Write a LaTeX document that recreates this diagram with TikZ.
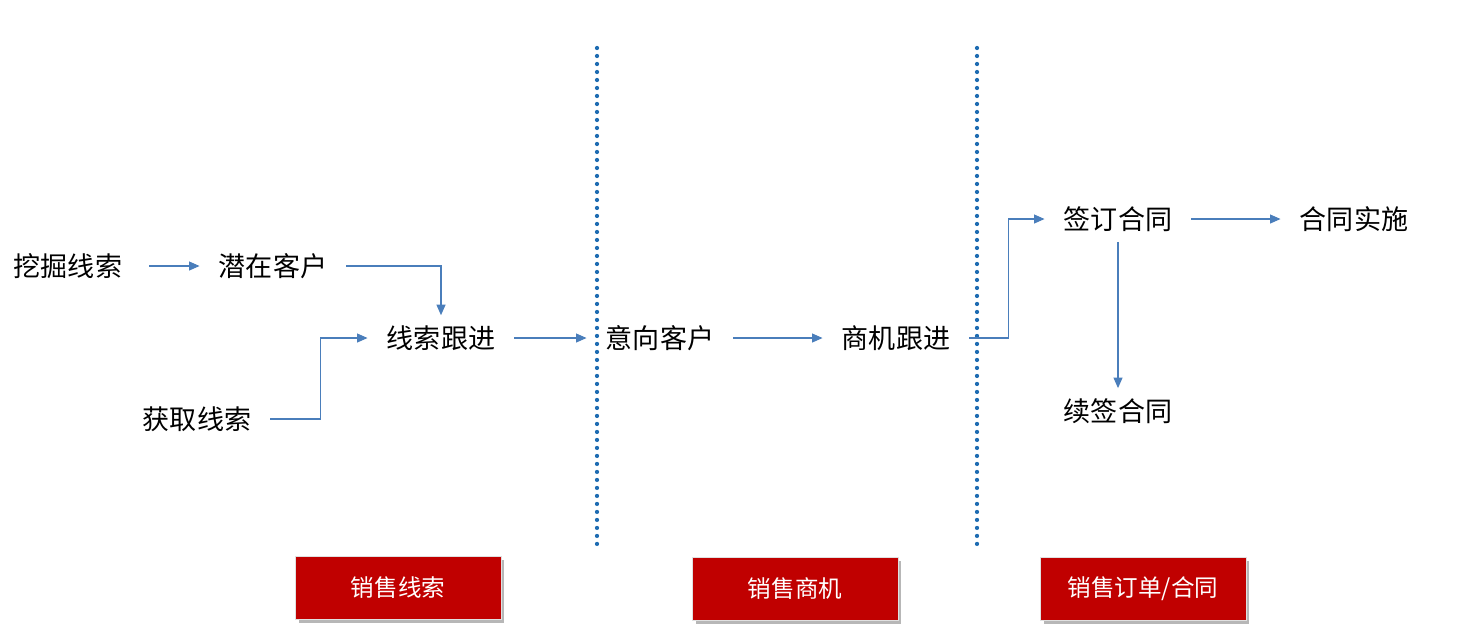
\documentclass[tikz,border=0pt]{standalone}
\usepackage{fontspec}
\setmainfont{Noto Sans CJK SC}
\usetikzlibrary{arrows.meta, positioning, shadows}
\definecolor{arrowblue}{HTML}{4A7EBB}
\definecolor{lineblue}{HTML}{1E6CB2}
\definecolor{stagered}{HTML}{C00000}

\begin{document}
\begin{tikzpicture}[
    x=0.02cm, y=-0.02cm,
    item/.style={inner xsep=0.38cm, inner ysep=0.2cm, font=\fontsize{15.4}{18}\selectfont},
    stage/.style={draw=black!12, fill=stagered, text=white, minimum width=4.12cm, minimum height=1.26cm,
        font=\fontsize{13.4}{16}\selectfont,
        drop shadow={shadow xshift=0.07cm, shadow yshift=-0.07cm, fill=black!40, opacity=0.7}},
    arrow/.style={-{Triangle[length=0.21cm, width=0.18cm]}, draw=arrowblue, line width=0.6pt},
    divider/.style={draw=lineblue, line width=0.085cm, line cap=round, dash pattern=on 0pt off 0.16cm}
]
\useasboundingbox (0,0) rectangle (1465,643);

% 线索阶段
\node[item] (dig) at (68,266) {挖掘线索};
\node[item] (potential) at (273,266) {潜在客户};
\node[item] (follow) at (441,338) {线索跟进};
\node[item] (obtain) at (197,419) {获取线索};

% 商机阶段
\node[item] (intent) at (660,338) {意向客户};
\node[item] (deal) at (896,338) {商机跟进};

% 合同阶段
\node[item] (sign) at (1118,219) {签订合同};
\node[item] (execute) at (1354,219) {合同实施};
\node[item] (renew) at (1118,411) {续签合同};

% 分隔线
\coordinate (div1top) at (597,48);
\coordinate (div1bot) at (597,550);
\coordinate (div2top) at (977,48);
\coordinate (div2bot) at (977,550);
\draw[divider] (div1top) -- (div1bot);
\draw[divider] (div2top) -- (div2bot);

% 阶段标签
\node[stage] (lead) at (398,588) {销售线索};
\node[stage] (chance) at (795,589) {销售商机};
\node[stage] (order) at (1143,589) {销售订单/合同};

% 箭头
\foreach \i/\j in {follow/intent, intent/deal, sign/execute, sign/renew}
    \draw[arrow] (\i) -- (\j);
\draw[arrow, shorten <=0.16cm] (dig) -- (potential);
\draw[arrow] (potential) -| (follow);
\draw[arrow] (obtain.east) -- ++(50,0) |- (follow);
\draw[arrow] (deal.east) -- ++(39,0) |- (sign);

\end{tikzpicture}
\end{document}
